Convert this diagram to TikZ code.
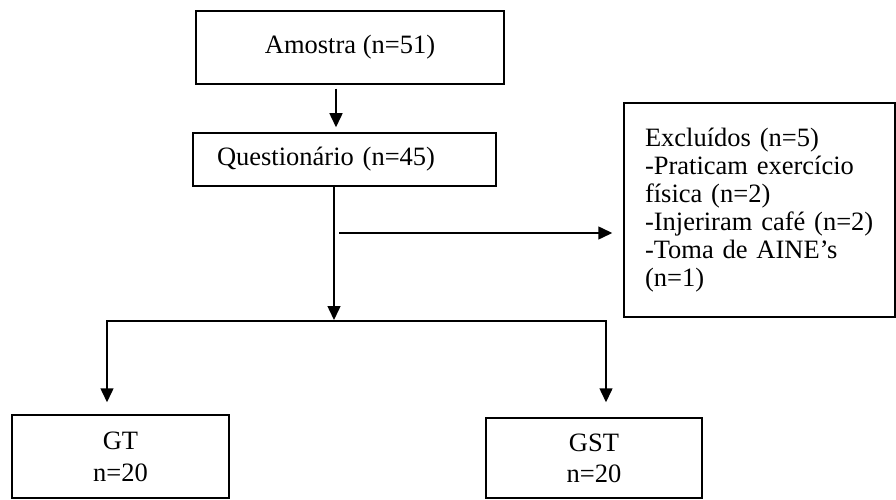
\documentclass[tikz,border=0pt]{standalone}
\usepackage{fontspec}
\setmainfont{Liberation Serif}
\usetikzlibrary{arrows.meta,calc}
\tikzset{
  box/.style={draw, line width=1.5pt, inner sep=0pt, font=\fontsize{26.5}{28}\selectfont},
  arr/.style={line width=1.5pt, -{Triangle[length=14pt,width=13pt]}},
  conn/.style={line width=1.5pt}
}
\begin{document}
\begin{tikzpicture}[x=1pt,y=-1pt]
\useasboundingbox (0,0) rectangle (896,500);
\node[box, minimum width=308pt, minimum height=73pt] (a) at (350,47.5) {Amostra (n=51)};
\node[box, minimum height=53pt, text width=255pt, inner xsep=24pt, align=left] (q) at (344.5,159.5) {Questionário (n=45)};
\node[box, minimum height=214pt, text width=229pt, inner xsep=21pt, align=left] (ex) at (759.5,210) {Excluídos (n=5)\\-Praticam exercício\\física (n=2)\\-Injeriram café (n=2)\\-Toma de AINE’s\\(n=1)};
\node[box, minimum width=217pt, minimum height=83pt, align=center, font=\fontsize{26.5}{32}\selectfont] (gt) at (120.5,456.5) {GT\\n=20};
\node[box, minimum width=216pt, minimum height=80pt, align=center, font=\fontsize{26.5}{31}\selectfont] (gst) at (594,458) {GST\\n=20};
\coordinate (split) at (334,321);
\coordinate (exstart) at (339,233);
\draw[arr] ($(a.south)+(-14,4)$) -- ($(q.north)+(-8.5,-5)$);
\draw[arr] ($(q.south)+(-10.5,0)$) -- ($(split)+(0,-1)$);
\draw[arr] (exstart) -- ($(ex.west)+(-11,23)$);
\draw[arr] (split) -| ($(gt.north)+(-13.5,-12)$);
\draw[arr] (split) -| ($(gst.north)+(12,-15)$);
\end{tikzpicture}
\end{document}
